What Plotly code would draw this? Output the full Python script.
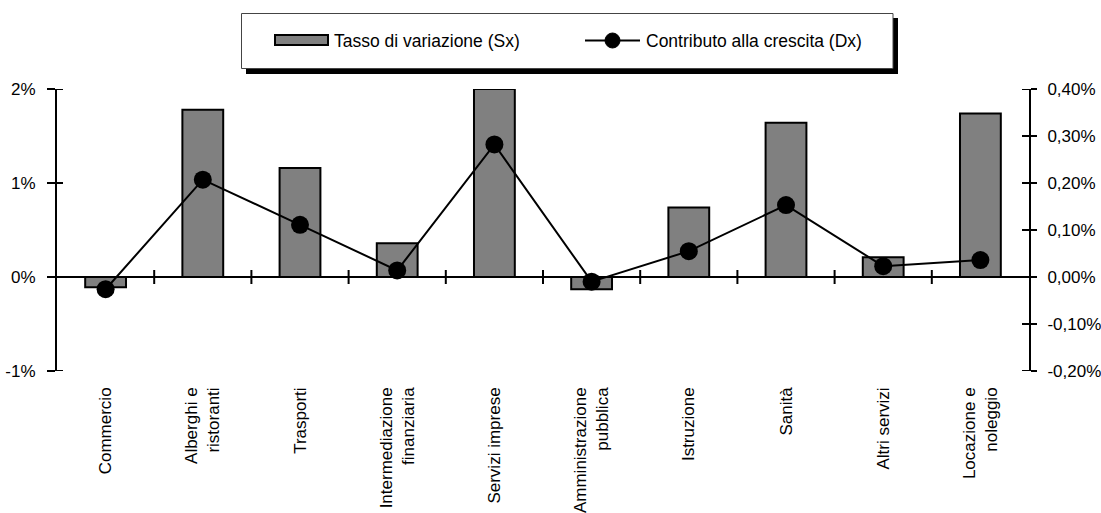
import plotly.graph_objects as go

categories = ["Commercio", "Alberghi e ristoranti", "Trasporti", "Intermediazione finanziaria",
              "Servizi imprese", "Amministrazione pubblica", "Istruzione", "Sanità",
              "Altri servizi", "Locazione e noleggio"]
tick_labels = ["Commercio", "Alberghi e<br>ristoranti", "Trasporti", "Intermediazione<br>finanziaria",
               "Servizi imprese", "Amministrazione<br>pubblica", "Istruzione", "Sanità",
               "Altri servizi", "Locazione e<br>noleggio"]
tasso = [-0.11, 1.78, 1.16, 0.36, 2.00, -0.13, 0.74, 1.64, 0.21, 1.74]          # % (left axis)
contributo = [-0.026, 0.207, 0.111, 0.014, 0.282, -0.010, 0.055, 0.153, 0.023, 0.036]  # % (right axis)

left_ticks = [-1, 0, 1, 2]
left_text = ["-1%", "0%", "1%", "2%"]
right_ticks = [-0.2, -0.1, 0.0, 0.1, 0.2, 0.3, 0.4]
right_text = ["-0,20%", "-0,10%", "0,00%", "0,10%", "0,20%", "0,30%", "0,40%"]

legend_names = ["Tasso di variazione (Sx)", "Contributo alla crescita (Dx)"]

FONT = "Liberation Sans, Arial, sans-serif"
W, H = 1101, 513
ML, MR, MT, MB = 57, 72, 89, 142
PW, PH = W - ML - MR, H - MT - MB


def px(x):
    return (x - ML) / PW


def py(y):
    return (H - MB - y) / PH


fig = go.Figure()
fig.add_trace(go.Bar(x=categories, y=tasso, name=legend_names[0], width=0.42,
                     marker=dict(color="#808080", line=dict(color="black", width=2)),
                     yaxis="y"))
fig.add_trace(go.Scatter(x=categories, y=contributo, name=legend_names[1], mode="lines+markers",
                         line=dict(color="black", width=2),
                         marker=dict(color="black", size=18), yaxis="y2"))

shapes = []
# category separator ticks crossing the zero line
for i in range(len(categories) - 1):
    shapes.append(dict(type="line", xref="x", yref="y", x0=i + 0.5, x1=i + 0.5,
                       ysizemode="pixel", yanchor=0, y0=-7, y1=7,
                       line=dict(color="black", width=2)))
# inner half of the crossing ticks on both value axes
for v in left_ticks:
    shapes.append(dict(type="line", xref="paper", yref="y", y0=v, y1=v,
                       xsizemode="pixel", xanchor=0, x0=0, x1=6,
                       line=dict(color="black", width=2)))
for v in right_ticks:
    shapes.append(dict(type="line", xref="paper", yref="y2", y0=v, y1=v,
                       xsizemode="pixel", xanchor=1, x0=-7, x1=0,
                       line=dict(color="black", width=2)))

# custom legend box with shadow
shapes.append(dict(type="rect", xref="paper", yref="paper", layer="above",
                   x0=px(246), x1=px(898), y0=py(74), y1=py(18),
                   fillcolor="black", line=dict(width=0)))
shapes.append(dict(type="rect", xref="paper", yref="paper", layer="above",
                   x0=px(241.5), x1=px(893), y0=py(68.5), y1=py(13.5),
                   fillcolor="white", line=dict(color="#444444", width=1)))
shapes.append(dict(type="rect", xref="paper", yref="paper", layer="above",
                   x0=px(275), x1=px(328), y0=py(45), y1=py(35),
                   fillcolor="#808080", line=dict(color="black", width=2)))
shapes.append(dict(type="line", xref="paper", yref="paper", layer="above",
                   x0=px(585), x1=px(640), y0=py(40.5), y1=py(40.5),
                   line=dict(color="black", width=2)))
shapes.append(dict(type="circle", xref="paper", yref="paper", layer="above",
                   x0=px(605), x1=px(620), y0=py(48), y1=py(33),
                   fillcolor="black", line=dict(color="black", width=1)))

annotations = [
    dict(text=legend_names[0], xref="paper", yref="paper", x=px(332), y=py(40.5),
         xanchor="left", yanchor="middle", showarrow=False,
         font=dict(family=FONT, size=17.5, color="black")),
    dict(text=legend_names[1], xref="paper", yref="paper", x=px(644), y=py(40.5),
         xanchor="left", yanchor="middle", showarrow=False,
         font=dict(family=FONT, size=17.5, color="black")),
]

fig.update_layout(
    width=W, height=H,
    margin=dict(l=ML, r=MR, t=MT, b=MB, autoexpand=False),
    paper_bgcolor="white", plot_bgcolor="white",
    showlegend=False,
    font=dict(family=FONT, size=17, color="black"),
    shapes=shapes,
    annotations=annotations,
    xaxis=dict(type="category", categoryorder="array", categoryarray=categories,
               tickvals=categories, ticktext=tick_labels, tickangle=-90,
               range=[-0.5, len(categories) - 0.5], showline=False, ticks="",
               showgrid=False, zeroline=False, automargin=False,
               ticklabelstandoff=12),
    yaxis=dict(range=[-1, 2], tickvals=left_ticks, ticktext=left_text,
               showline=True, linecolor="black", linewidth=2, ticks="outside",
               ticklen=8, tickwidth=2, tickcolor="black", showgrid=False,
               zeroline=True, zerolinecolor="black", zerolinewidth=2,
               ticklabelstandoff=8, automargin=False),
    yaxis2=dict(range=[-0.2, 0.4], tickvals=right_ticks, ticktext=right_text,
                overlaying="y", side="right", showline=True, linecolor="black",
                linewidth=2, ticks="outside", ticklen=6, tickwidth=2, tickcolor="black",
                showgrid=False, zeroline=False, ticklabelstandoff=7, automargin=False),
)

fig.write_html("out.html", config={"displayModeBar": False},
               post_script="document.body.style.margin='0';")
